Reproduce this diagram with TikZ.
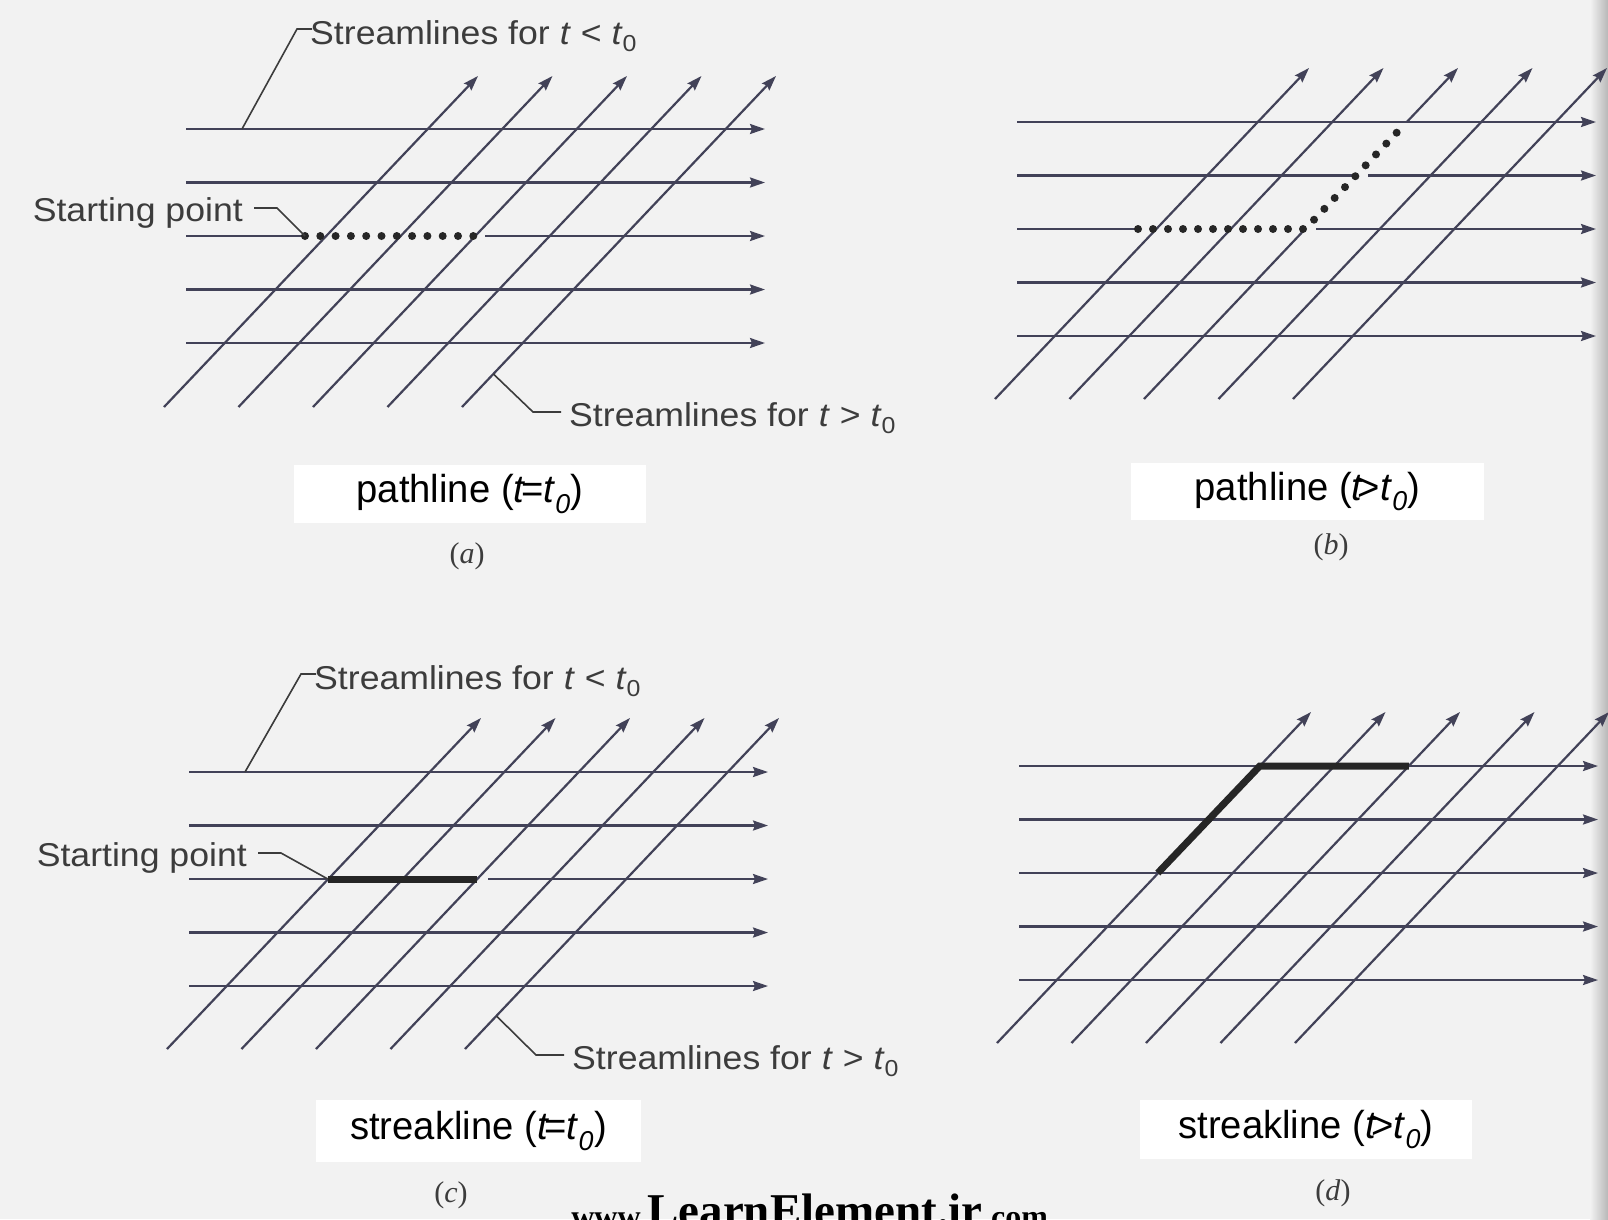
\documentclass[tikz,border=0pt]{standalone}
\usepackage{fontspec}
\setmainfont{Liberation Sans}
\newfontfamily\labelfont[FakeStretch=1.08]{Liberation Sans}
\newfontfamily\boxfont[FakeStretch=0.98]{Liberation Sans}
\newfontfamily\capfont{Liberation Serif}
\usetikzlibrary{arrows.meta, positioning, calc}
\definecolor{inkgray}{HTML}{424258}
\definecolor{textgray}{HTML}{3C3C3C}
\definecolor{paper}{HTML}{F2F2F2}

\begin{document}
\begin{tikzpicture}[x=1pt, y=-1pt,
    stream/.style={draw=inkgray, line width=2.2pt, -{Stealth[length=15pt, width=10pt, inset=2pt]}},
    bare/.style={draw=inkgray, line width=2.2pt},
    leader/.style={draw=textgray, line width=1.6pt},
    dotline/.style={draw=black!85, line width=8pt, line cap=round, dash pattern=on 0pt off 15.3pt},
    streak/.style={draw=black!85, line width=7pt},
    tag/.style={font=\labelfont\fontsize{33}{40}\selectfont, text=textgray, inner sep=0pt},
    namebox/.style={fill=white, font=\boxfont\fontsize{39}{46}\selectfont, inner sep=0pt},
    panel/.style={font=\capfont\fontsize{30}{36}\selectfont, text=textgray, inner sep=0pt},
    wmark/.style={font=\capfont\bfseries\fontsize{47}{50}\selectfont, inner sep=0pt}]

    \useasboundingbox (0,0) rectangle (1608,1219);
    \fill[paper] (0,0) rectangle (1608,1219);
    \shade[left color=paper, right color=black!28] (1590,0) rectangle (1608,1219);

    % (a) pathline, t = t0
    \begin{scope}[shift={(186,129)}]
        \foreach \i in {0,1,3,4} \draw[stream] (0,53.5*\i) -- (579,53.5*\i);
        \foreach \j in {0,...,4} \draw[stream] (-22+74.5*\j,278) -- (292+74.5*\j,-53);
        \draw[bare] (0,107) -- (119,107);
        \draw[stream] (299,107) -- (579,107);
        \coordinate (dotA) at (119,107);
        \coordinate (endA) at (287.3,107);
        \coordinate (topA) at (56,0);
        \coordinate (footA) at (307.4,245);
        \draw[dotline] (dotA) -- (endA);
    \end{scope}

    % (b) pathline, t > t0
    \begin{scope}[shift={(1017,122)}]
        \foreach \i in {0,3,4} \draw[stream] (0,53.5*\i) -- (579,53.5*\i);
        \foreach \j in {0,1,3,4} \draw[stream] (-22+74.5*\j,277) -- (292+74.5*\j,-54);
        \draw[bare] (0,53.5) -- (338.5,53.5);
        \draw[stream] (351,53.5) -- (579,53.5);
        \draw[bare] (0,107) -- (121,107);
        \draw[stream] (299,107) -- (579,107);
        \coordinate (dotB) at (121,107);
        \coordinate (bendB) at (288.2,107);
        \coordinate (endB) at (389.8,0);
        \draw[bare] (127,277) -- (bendB);
        \draw[stream] (endB) -- (441,-54);
        \draw[dotline, dash pattern=on 0pt off 15pt] (dotB) -- (bendB) -- (endB);
    \end{scope}

    % (c) streakline, t = t0
    \begin{scope}[shift={(189,772)}]
        \foreach \i in {0,1,3,4} \draw[stream] (0,53.5*\i) -- (579,53.5*\i);
        \foreach \j in {0,...,4} \draw[stream] (-22+74.5*\j,277) -- (292+74.5*\j,-54);
        \coordinate (dotC) at (138.8,107);
        \coordinate (endC) at (287.8,107);
        \coordinate (topC) at (56,0);
        \coordinate (footC) at (307.4,243.9);
        \draw[bare] (0,107) -- (dotC);
        \draw[stream] (299,107) -- (579,107);
        \draw[streak] (dotC) -- (endC);
    \end{scope}

    % (d) streakline, t > t0
    \begin{scope}[shift={(1019,766)}]
        \foreach \i in {0,...,4} \draw[stream] (0,53.5*\i) -- (579,53.5*\i);
        \foreach \j in {0,...,4} \draw[stream] (-22+74.5*\j,277) -- (292+74.5*\j,-54);
        \coordinate (dotD) at (138.8,107);
        \coordinate (bendD) at (240.8,0);
        \coordinate (endD) at (389.8,0);
        \draw[streak] (dotD) -- (bendD) -- (endD);
    \end{scope}

    \node[tag, anchor=base west] (lessA) at (310,44) {Streamlines for \textit{t} < \textit{t}\textsubscript{0}};
    \node[tag, anchor=base east] (startA) at (243,221) {Starting point};
    \node[tag, anchor=base west] (moreA) at (569,426) {Streamlines for \textit{t} > \textit{t}\textsubscript{0}};
    \draw[leader] (topA) -- ($(lessA.base west)+(-13,-15)$) -- ++(15,0);
    \draw[leader] ($(startA.base east)+(11,-13)$) -- ++(23,0) -- (dotA);
    \draw[leader] (footA) -- ($(moreA.base west)+(-36,-14)$) -- ++(28,0);

    \node[tag, anchor=base west] (lessC) at (314,689) {Streamlines for \textit{t} < \textit{t}\textsubscript{0}};
    \node[tag, anchor=base east] (startC) at (247,866) {Starting point};
    \node[tag, anchor=base west] (moreC) at (572,1069) {Streamlines for \textit{t} > \textit{t}\textsubscript{0}};
    \draw[leader] (topC) -- ($(lessC.base west)+(-13,-15)$) -- ++(15,0);
    \draw[leader] ($(startC.base east)+(11,-13)$) -- ++(23,0) -- (dotC);
    \draw[leader] (footC) -- ($(moreC.base west)+(-36,-14)$) -- ++(28,0);

    \node[namebox, minimum width=352pt, minimum height=58pt] (nameA) at (470,494) {pathline (\textit{t}\kern-.12em=\textit{t}\textsubscript{\textit{0}})};
    \node[namebox, minimum width=353pt, minimum height=57pt] (nameB) at (1307.5,491.5) {pathline (\textit{t}\kern-.15em>\textit{t}\textsubscript{\textit{0}})};
    \node[namebox, minimum width=325pt, minimum height=62pt] (nameC) at (478.5,1131) {streakline (\textit{t}\kern-.12em=\textit{t}\textsubscript{\textit{0}})};
    \node[namebox, minimum width=332pt, minimum height=59pt] (nameD) at (1306,1129.5) {streakline (\textit{t}\kern-.15em>\textit{t}\textsubscript{\textit{0}})};

    \node[panel] (capA) at (467,556) {(\textit{a})};
    \node[panel] (capB) at (1331,547) {(\textit{b})};
    \node[panel] (capC) at (451,1195) {(\textit{c})};
    \node[panel] (capD) at (1333,1193) {(\textit{d})};

    \node[wmark, anchor=base] (markname) at (815,1226) {LearnElement.ir};
    \node[wmark, font=\capfont\bfseries\fontsize{32}{34}\selectfont, anchor=base east] (markwww) at ($(markname.base west)+(0,1)$) {www.};
    \node[wmark, font=\capfont\bfseries\fontsize{32}{34}\selectfont, anchor=base west] (markcom) at ($(markname.base east)+(0,1)$) {.com};

\end{tikzpicture}
\end{document}
